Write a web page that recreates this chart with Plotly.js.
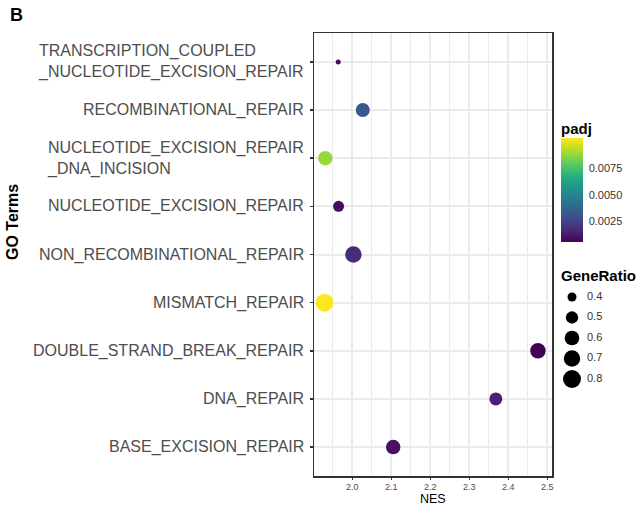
<!DOCTYPE html>
<html>
<head>
<meta charset="utf-8">
<script src="https://cdn.plot.ly/plotly-3.0.1.min.js"></script>
<style>html,body{margin:0;padding:0;background:#fff;}#chart{width:642px;height:506px;}</style>
</head>
<body>
<div id="chart"></div>
<script>
// ---- data (bottom to top) ----
const categories = [
  "BASE_EXCISION_REPAIR",
  "DNA_REPAIR",
  "DOUBLE_STRAND_BREAK_REPAIR",
  "MISMATCH_REPAIR",
  "NON_RECOMBINATIONAL_REPAIR",
  "NUCLEOTIDE_EXCISION_REPAIR",
  "NUCLEOTIDE_EXCISION_REPAIR_DNA_INCISION",
  "RECOMBINATIONAL_REPAIR",
  "TRANSCRIPTION_COUPLED_NUCLEOTIDE_EXCISION_REPAIR"
];
const categoryLabels = [
  "BASE_EXCISION_REPAIR",
  "DNA_REPAIR",
  "DOUBLE_STRAND_BREAK_REPAIR",
  "MISMATCH_REPAIR",
  "NON_RECOMBINATIONAL_REPAIR",
  "NUCLEOTIDE_EXCISION_REPAIR",
  "NUCLEOTIDE_EXCISION_REPAIR<br>_DNA_INCISION",
  "RECOMBINATIONAL_REPAIR",
  "TRANSCRIPTION_COUPLED<br>_NUCLEOTIDE_EXCISION_REPAIR"
];
const nes       = [2.105, 2.368, 2.476, 1.929, 2.003, 1.965, 1.931, 2.027, 1.964];
const padj      = [0.0009, 0.0014, 0.0005, 0.0104, 0.0017, 0.0008, 0.0089, 0.0032, 0.0008];
const geneRatio = [0.595, 0.526, 0.648, 0.802, 0.706, 0.453, 0.595, 0.571, 0.358];

const xTickVals   = [2.0, 2.1, 2.2, 2.3, 2.4, 2.5];
const xTickText   = ["2.0", "2.1", "2.2", "2.3", "2.4", "2.5"];
const padjTickVals = [0.0025, 0.0050, 0.0075];
const padjTickText = ["0.0025", "0.0050", "0.0075"];
const sizeLegendValues = [0.4, 0.5, 0.6, 0.7, 0.8];
const sizeLegendText   = ["0.4", "0.5", "0.6", "0.7", "0.8"];

// ---- size scale (area-like, as ggplot scale_size) ----
const rMin = Math.min(...geneRatio);
function diam(r) { return 5 + 19.5 * Math.sqrt(Math.max(0, r - rMin)); }

const W = 642, H = 506;
const mL = 314, mR = 0, mT = 33, mB = 30;
const plotW = W - mL - mR, plotH = H - mT - mB;
const panelRight = 552;
const px = x => (x - mL) / plotW;          // pixel -> paper x
const py = y => (H - mB - y) / plotH;      // pixel -> paper y

const FONT = "Liberation Sans, Arial, Helvetica, sans-serif";

const main = {
  type: "scatter", mode: "markers",
  x: nes, y: categories,
  xaxis: "x", yaxis: "y",
  showlegend: false, hoverinfo: "x+y",
  marker: {
    size: geneRatio.map(diam), sizemode: "diameter",
    color: padj, colorscale: "Viridis",
    cmin: Math.min(...padj), cmax: Math.max(...padj),
    line: {width: 0}, opacity: 1,
    colorbar: {
      x: px(561), xanchor: "left", xpad: 0,
      y: py(190), yanchor: "middle", ypad: 0,
      lenmode: "pixels", len: 104,
      thickness: 22, thicknessmode: "pixels",
      outlinewidth: 0,
      tickvals: padjTickVals, ticktext: padjTickText,
      ticks: "outside", ticklen: 4, tickcolor: "rgba(255,255,255,0)", tickwidth: 1,
      tickfont: {family: FONT, size: 11, color: "#333"}
    }
  }
};

// size legend drawn on helper axes
const legIdx = sizeLegendValues.map((v, i) => -i);
const sizeLegendMarks = {
  type: "scatter", mode: "markers",
  x: sizeLegendValues.map(() => 20), y: legIdx,
  xaxis: "x2", yaxis: "y2", showlegend: false, hoverinfo: "skip",
  marker: {size: sizeLegendValues.map(diam), sizemode: "diameter", color: "#000", opacity: 1, line: {width: 0}}
};
const sizeLegendLabels = {
  type: "scatter", mode: "text",
  x: sizeLegendValues.map(() => 35), y: legIdx,
  text: sizeLegendText, textposition: "middle right",
  textfont: {family: FONT, size: 11, color: "#333"},
  xaxis: "x2", yaxis: "y2", showlegend: false, hoverinfo: "skip"
};

const annotations = categories.map((c, i) => ({
  xref: "paper", yref: "y", x: px(306), y: c,
  xanchor: "right", yanchor: "middle", align: "left",
  text: categoryLabels[i], showarrow: false,
  font: {family: FONT, size: 16, color: "#4d4d4d"}
}));
annotations.push({
  xref: "paper", yref: "paper", x: px(12), y: py(222),
  text: "<b>GO Terms</b>", textangle: -90, showarrow: false,
  xanchor: "center", yanchor: "middle",
  font: {family: FONT, size: 16, color: "#000"}
});
annotations.push({
  xref: "paper", yref: "paper", x: px(8), y: py(15),
  text: "<b>B</b>", showarrow: false, xanchor: "left", yanchor: "middle",
  font: {family: FONT, size: 18, color: "#000"}
});
annotations.push({
  xref: "paper", yref: "paper", x: px(559), y: py(128),
  text: "<b>padj</b>", showarrow: false, xanchor: "left", yanchor: "middle",
  font: {family: FONT, size: 15, color: "#000"}
});
annotations.push({
  xref: "paper", yref: "paper", x: px(559), y: py(275),
  text: "<b>GeneRatio</b>", showarrow: false, xanchor: "left", yanchor: "middle",
  font: {family: FONT, size: 15, color: "#000"}
});
annotations.push({
  xref: "paper", yref: "paper", x: px(433), y: py(507.3),
  text: "NES", showarrow: false, xanchor: "center", yanchor: "bottom",
  borderpad: 0,
  font: {family: FONT, size: 12.5, color: "#000"}
});

const layout = {
  width: W, height: H,
  margin: {l: mL, r: mR, t: mT, b: mB, pad: 0},
  paper_bgcolor: "#fff", plot_bgcolor: "#fff",
  font: {family: FONT},
  showlegend: false,
  xaxis: {
    domain: [0, px(panelRight)],
    range: [1.902, 2.512],
    tickvals: xTickVals, ticktext: xTickText,
    ticks: "outside", ticklen: 2, tickwidth: 1.2, tickcolor: "#333",
    tickfont: {family: FONT, size: 9, color: "#4d4d4d"},
    showgrid: true, gridcolor: "#ebebeb", gridwidth: 2,
    minor: {dtick: 0.1, tick0: 1.95, showgrid: true, gridcolor: "#ebebeb", gridwidth: 1},
    zeroline: false,
    showline: true, linecolor: "#333", linewidth: 1.5, mirror: true,
    fixedrange: true
  },
  yaxis: {
    type: "category", categoryorder: "array", categoryarray: categories,
    range: [-0.6, 8.6],
    showticklabels: false,
    ticks: "outside", ticklen: 3, tickwidth: 1.5, tickcolor: "#333",
    showgrid: true, gridcolor: "#ebebeb", gridwidth: 2,
    zeroline: false,
    showline: true, linecolor: "#333", linewidth: 1.5, mirror: true,
    fixedrange: true
  },
  xaxis2: {
    domain: [px(panelRight), 1], range: [0, 90], anchor: "y2",
    visible: false, fixedrange: true
  },
  yaxis2: {
    domain: [0, 1], range: [-(476 - 297) / 20.5, (297 - 33) / 20.5], anchor: "x2",
    visible: false, fixedrange: true
  },
  annotations: annotations
};

Plotly.newPlot("chart", [main, sizeLegendMarks, sizeLegendLabels], layout, {staticPlot: true, displayModeBar: false});
</script>
</body>
</html>
